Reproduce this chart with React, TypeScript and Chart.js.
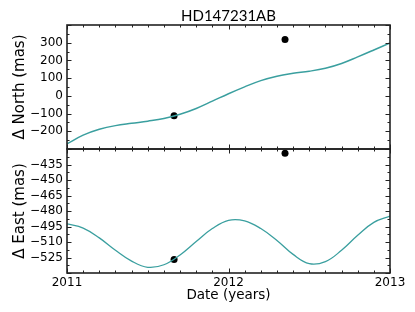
import React, { useEffect, useRef } from 'react';
import { Chart, registerables } from 'chart.js';

Chart.register(...registerables);

const TITLE = 'HD147231AB';
const X_LABEL = 'Date (years)';
const NORTH_LABEL = 'Δ North (mas)';
const EAST_LABEL = 'Δ East (mas)';

const curveYears = [2011.0, 2011.1, 2011.2, 2011.3, 2011.4, 2011.5, 2011.6, 2011.7, 2011.8, 2011.9, 2012.0, 2012.1, 2012.2, 2012.3, 2012.4, 2012.5, 2012.6, 2012.7, 2012.8, 2012.9, 2013.0];
const northValues = [-271, -222, -189, -168, -155, -143, -128, -104, -71, -30, 12, 51, 86, 111, 127, 139, 156, 183, 220, 259, 299];
const eastValues = [-492.5, -496.5, -506, -518, -528.5, -534.5, -532, -522.5, -509.5, -497, -489, -489.5, -497, -508.5, -522, -531, -529, -518, -503.5, -491, -485];

// Observations
const obsYears = [2011.663, 2012.35];
const obsNorth = [-113, 318];
const obsEast = [-527, -424];

// Axes
const xMajorTicks = [2011, 2012, 2013];
const northRange = [-300, 400];
const northStep = 100;
const eastRange = [-540, -420];
const eastStep = 15;

const TEAL = '#3a9f9f';
const FONT = 'DejaVu Sans';
const MINUS = '\u2212';

const fmt = (v: number) => (v < 0 ? MINUS + String(Math.abs(v)) : String(v));

function range(a: number, b: number, step: number): number[] {
  const out: number[] = [];
  const n = Math.round((b - a) / step);
  for (let i = 0; i <= n; i++) out.push(a + i * step);
  return out;
}

const framePlugin = {
  id: 'frame',
  afterDatasetsDraw(chart: any) {
    const ctx = chart.ctx as CanvasRenderingContext2D;
    const xs = chart.scales.x;
    const panels = [
      { s: chart.scales.yN, major: northStep, lo: northRange[0], hi: northRange[1] },
      { s: chart.scales.yE, major: eastStep, lo: eastRange[0], hi: eastRange[1] },
    ];
    const left = xs.left;
    const right = xs.right;
    ctx.save();
    ctx.strokeStyle = '#222';
    ctx.lineWidth = 1;
    const seg = (x1: number, y1: number, x2: number, y2: number) => {
      ctx.beginPath();
      ctx.moveTo(x1, y1);
      ctx.lineTo(x2, y2);
      ctx.stroke();
    };
    const xMinor = range(xMajorTicks[0], xMajorTicks[xMajorTicks.length - 1], 0.1);
    for (const p of panels) {
      const top = p.s.top;
      const bottom = p.s.bottom;
      for (const v of xMinor) {
        const isMajor = Math.abs(v - Math.round(v)) < 1e-6;
        const len = isMajor ? 4.5 : 2.5;
        const px = Math.round(xs.getPixelForValue(v)) + 0.5;
        seg(px, top, px, top + len);
        seg(px, bottom, px, bottom - len);
      }
      const yMinor = range(p.lo, p.hi, p.major / 2);
      yMinor.forEach((v, i) => {
        const len = i % 2 === 0 ? 4.5 : 2.5;
        const py = Math.round(p.s.getPixelForValue(v)) + 0.5;
        seg(left, py, left + len, py);
        seg(right, py, right - len, py);
      });
    }
    ctx.lineWidth = 1.6;
    for (const p of panels) {
      ctx.strokeRect(left, p.s.top, right - left, p.s.bottom - p.s.top);
    }
    // title centred over the plot area
    ctx.fillStyle = '#000';
    ctx.font = '15px Lato';
    ctx.textAlign = 'center';
    ctx.textBaseline = 'alphabetic';
    ctx.fillText(TITLE, (left + right) / 2, 21);
    ctx.restore();
  },
};

export default function App() {
  const ref = useRef<HTMLCanvasElement>(null);
  useEffect(() => {
    document.body.style.margin = '0';
    const tickFont = { family: FONT, size: 12 };
    const yTitle = (text: string) => ({
      display: true,
      text,
      color: '#000',
      font: { family: FONT, size: 15 },
      padding: { top: 11, bottom: 0 },
    });
    const chart = new Chart(ref.current as HTMLCanvasElement, {
      type: 'scatter',
      data: {
        datasets: [
          {
            data: curveYears.map((x, i) => ({ x, y: northValues[i] })),
            yAxisID: 'yN',
            showLine: true,
            borderColor: TEAL,
            borderWidth: 1.5,
            pointRadius: 0,
            tension: 0.4,
          },
          {
            data: curveYears.map((x, i) => ({ x, y: eastValues[i] })),
            yAxisID: 'yE',
            showLine: true,
            borderColor: TEAL,
            borderWidth: 1.3,
            pointRadius: 0,
            tension: 0.4,
          },
          {
            data: obsYears.map((x, i) => ({ x, y: obsNorth[i] })),
            yAxisID: 'yN',
            pointRadius: 3.5,
            backgroundColor: '#000',
            borderWidth: 0,
          },
          {
            data: obsYears.map((x, i) => ({ x, y: obsEast[i] })),
            yAxisID: 'yE',
            pointRadius: 3.5,
            backgroundColor: '#000',
            borderWidth: 0,
          },
        ],
      },
      options: {
        animation: false,
        responsive: false,
        layout: { padding: { left: 0, right: 25, top: 25, bottom: 0 } },
        plugins: {
          legend: { display: false },
          tooltip: { enabled: false },
          title: { display: false },
        },
        scales: {
          x: {
            type: 'linear',
            position: 'bottom',
            min: xMajorTicks[0],
            max: xMajorTicks[xMajorTicks.length - 1],
            grid: { display: false, drawTicks: false },
            border: { display: false },
            ticks: {
              stepSize: 1,
              maxRotation: 0,
              autoSkip: false,
              padding: 3,
              color: '#000',
              font: tickFont,
              callback: (v: any) => String(v),
            },
            title: {
              display: true,
              text: X_LABEL,
              color: '#000',
              font: { family: FONT, size: 13.5 },
              padding: { top: 0, bottom: 8 },
            },
            afterFit: (s: any) => {
              s.height = 39;
            },
          },
          yE: {
            type: 'linear',
            position: 'left',
            stack: 'panels',
            stackWeight: 1,
            min: eastRange[0],
            max: eastRange[1],
            grid: { display: false, drawTicks: false },
            border: { display: false },
            ticks: {
              stepSize: eastStep,
              autoSkip: false,
              padding: 4,
              color: '#000',
              font: tickFont,
              callback: (v: any) => (v === eastRange[0] || v === eastRange[1] ? '' : fmt(v)),
            },
            title: yTitle(EAST_LABEL),
            afterFit: (s: any) => {
              s.width = 67;
            },
          },
          yN: {
            type: 'linear',
            position: 'left',
            stack: 'panels',
            stackWeight: 1,
            min: northRange[0],
            max: northRange[1],
            grid: { display: false, drawTicks: false },
            border: { display: false },
            ticks: {
              stepSize: northStep,
              autoSkip: false,
              padding: 4,
              color: '#000',
              font: tickFont,
              callback: (v: any) => (v === northRange[0] || v === northRange[1] ? '' : fmt(v)),
            },
            title: yTitle(NORTH_LABEL),
            afterFit: (s: any) => {
              s.width = 67;
            },
          },
        },
      } as any,
      plugins: [framePlugin],
    });
    return () => chart.destroy();
  }, []);
  return (
    <div style={{ width: 415, height: 312 }}>
      <canvas ref={ref} width={415} height={312} style={{ display: 'block' }} />
    </div>
  );
}
